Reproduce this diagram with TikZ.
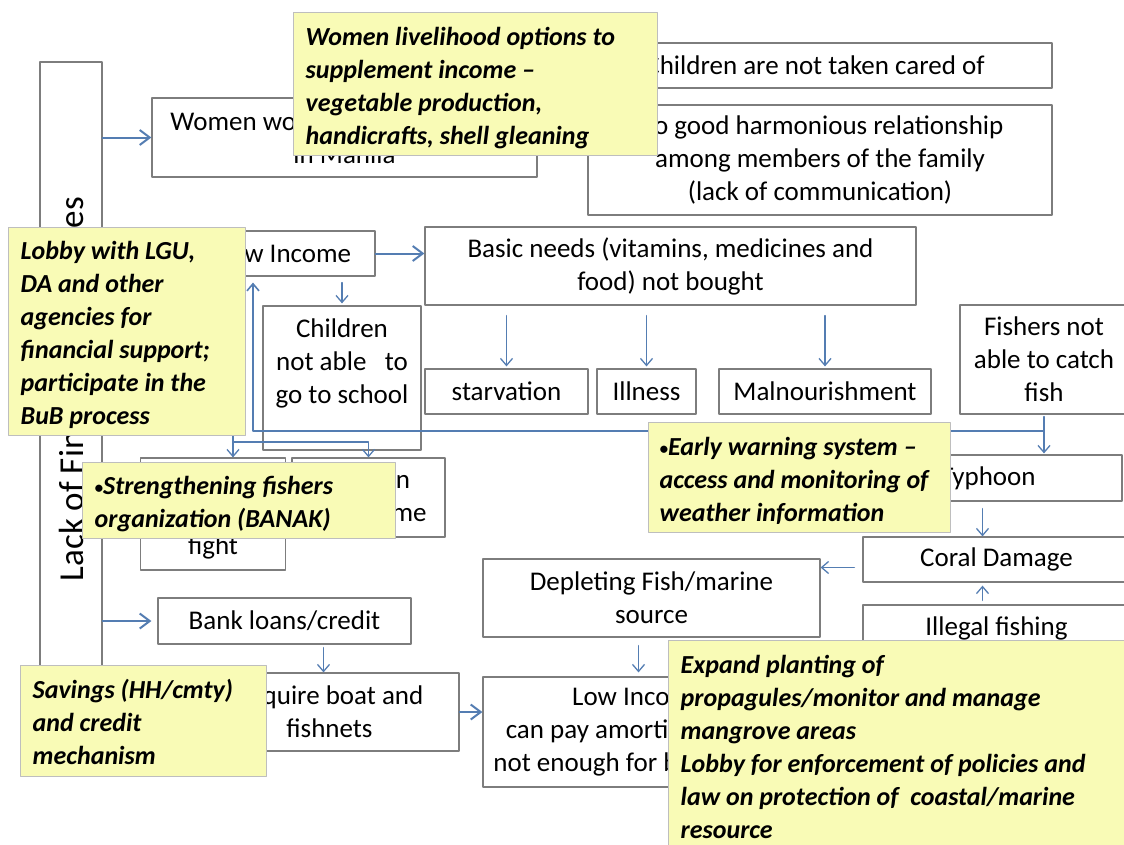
\documentclass[tikz,border=0pt]{standalone}
\usepackage{fontspec}
\setmainfont{Carlito}
\usetikzlibrary{arrows.meta}
\definecolor{linkblue}{RGB}{84,125,178}
\definecolor{boxgray}{RGB}{125,125,125}
\definecolor{notefill}{RGB}{249,251,182}
\definecolor{noteline}{RGB}{190,190,190}
\newcommand{\notedot}{\raisebox{1pt}{\fontsize{17}{17}\selectfont\textbullet}}
\begin{document}
\begin{tikzpicture}[x=1pt,y=-1pt,font=\fontsize{27}{33}\selectfont,line cap=round,line join=round,
	box/.style={draw=boxgray,line width=1.2pt,fill=white,inner sep=0pt,align=center},
	note/.style={draw=noteline,line width=1pt,fill=notefill,inner sep=0pt},
	notetext/.style={anchor=west,xshift=13pt,inner sep=0pt,align=left,font=\fontsize{26}{33}\selectfont\bfseries\itshape},
	link/.style={draw=linkblue,line width=1.3pt},
	arr/.style={link,-{Straight Barb[length=7pt,width=12pt]}},
	bigarr/.style={link,line width=2pt,-{Straight Barb[length=10pt,width=15pt]}}]
	\useasboundingbox (0,0) rectangle (1124,844);
	% problem boxes
	\node[box,minimum width=62pt,minimum height=640pt,label={[yshift=-7pt,rotate=90,font=\fontsize{35}{40}\selectfont]center:Lack of Financial Resources}] (lack) at (71,382) {};
	\node[box,minimum width=385pt,minimum height=79pt] (women) at (344.5,137.5) {Women working as housemaids\\in Manila};
	\node[box,minimum width=474pt,minimum height=45pt] (cared) at (815,65.5) {Children are not taken cared of};
	\node[box,minimum width=464pt,minimum height=110pt] (harmony) at (820,160) {No good harmonious relationship\\among members of the family\\(lack of communication)};
	\node[box,minimum width=180pt,minimum height=45pt] (lowinc) at (285,253.5) {Low Income};
	\node[box,minimum width=491pt,minimum height=78pt] (basic) at (670.5,266) {Basic needs (vitamins, medicines and\\food) not bought};
	\node[box,minimum width=158pt,minimum height=144pt] (school) at (342,378) {Children\\not able \ \ to\\go to school\\\mbox{}};
	\node[box,minimum width=140pt,minimum height=112pt] (fight) at (213,514) {Husband and\\wife often\\fight};
	\node[box,minimum width=153pt,minimum height=79pt] (vices) at (368.5,497.5) {Vices in\\spare time};
	\node[box,minimum width=163pt,minimum height=45pt] (starv) at (506.5,391.5) {starvation};
	\node[box,minimum width=99pt,minimum height=45pt] (ill) at (646.5,391.5) {Illness};
	\node[box,minimum width=212pt,minimum height=45pt] (maln) at (825,391.5) {Malnourishment};
	\node[box,minimum width=168pt,minimum height=109pt] (fishers) at (1044,359.5) {Fishers not\\able to catch\\fish};
	\node[box,minimum width=268pt,minimum height=46pt] (typhoon) at (988,478) {Typhoon};
	\node[box,minimum width=267pt,minimum height=45pt] (coral) at (996.5,559.5) {Coral Damage};
	\node[box,minimum width=267pt,minimum height=46pt] (illegal) at (996.5,628) {Illegal fishing};
	\node[box,minimum width=337pt,minimum height=78pt] (deplete) at (651.5,598) {Depleting Fish/marine\\source};
	\node[box,minimum width=318pt,minimum height=110pt] (lowpay) at (642,732) {Low Income;\\can pay amortization but\\not enough for basic needs};
	\node[box,minimum width=253pt,minimum height=46pt] (bank) at (284.5,621) {Bank loans/credit};
	\node[box,minimum width=259pt,minimum height=78pt] (boat) at (329.5,712) {Acquire boat and\\fishnets};
	% links
	\coordinate (jfish) at (1044,431);
	\coordinate (jsplit) at (233,442);
	\draw[bigarr] (lack.east |- women.west) -- (women.west);
	\draw[bigarr,shorten >=6pt] (lack.east |- bank.west) -- (bank.west);
	\draw[bigarr] (lowinc.east) -- (lowinc.east -| basic.west);
	\draw[arr,shorten <=6pt,shorten >=2pt] (lowinc.south -| school.north) -- (school.north);
	\foreach \n in {starv,ill,maln}
		\draw[arr,shorten <=10pt,shorten >=2pt] (\n.north |- basic.south) -- (\n.north);
	\draw[arr,shorten <=2pt,shorten >=1pt] (fishers.south) -- (typhoon.north -| fishers.south);
	\draw[arr,line width=1.6pt,shorten >=6pt] (jfish) -| ([xshift=-32pt]lowinc.south);
	\draw[link] ([xshift=-52pt]lowinc.south) -- (jsplit);
	\draw[arr] (jsplit) -- ([xshift=20pt]fight.north);
	\draw[arr] (jsplit) -| (vices.north);
	\draw[arr,shorten <=7pt] ([xshift=-14pt]typhoon.south -| coral.north) -- ([xshift=-14pt]coral.north);
	\draw[arr,shorten <=4pt,shorten >=3pt] ([xshift=-14pt]illegal.north) -- ([xshift=-14pt]coral.south);
	\draw[arr,shorten <=8pt] ([yshift=-8pt]coral.west) -- ([yshift=-8pt]coral.west -| deplete.east);
	\draw[arr,shorten <=8pt,shorten >=4pt] ([xshift=-13pt]deplete.south) -- ([xshift=-13pt]deplete.south |- lowpay.north);
	\draw[bigarr] (boat.east) -- (boat.east -| lowpay.west);
	\draw[arr,shorten <=3pt] ([xshift=-6pt]bank.south -| boat.north) -- ([xshift=-6pt]boat.north);
	% action notes
	\node[note,minimum width=364pt,minimum height=143pt,label={[notetext,yshift=-5pt]west:{Women livelihood options to\\supplement income --\\vegetable production,\\handicrafts, shell gleaning}}] (nwomen) at (475,83.5) {};
	\node[note,minimum width=237pt,minimum height=208pt,label={[notetext,yshift=-4pt]west:{Lobby with LGU,\\DA and other\\agencies for\\financial support;\\participate in the\\BuB process}}] (nlobby) at (126.5,331) {};
	\node[note,minimum width=313pt,minimum height=76pt,label={[notetext,yshift=-4pt]west:{\notedot Strengthening fishers\\organization (BANAK)}}] (nbanak) at (238.5,500) {};
	\node[note,minimum width=302pt,minimum height=110pt,label={[notetext,xshift=-1pt,yshift=-4pt]west:{\notedot Early warning system --\\access and monitoring of\\weather information}}] (nwarn) at (799,477) {};
	\node[note,minimum width=246pt,minimum height=111pt,label={[notetext,yshift=-1pt]west:{Savings (HH/cmty)\\and credit\\mechanism}}] (nsave) at (143,720.5) {};
	\node[note,minimum width=462pt,minimum height=210pt,label={[notetext,yshift=-2pt]west:{Expand planting of\\propagules/monitor and manage\\mangrove areas\\Lobby for enforcement of policies and\\law on protection of \ coastal/marine\\resource}}] (nexpand) at (899,745) {};
\end{tikzpicture}
\end{document}
